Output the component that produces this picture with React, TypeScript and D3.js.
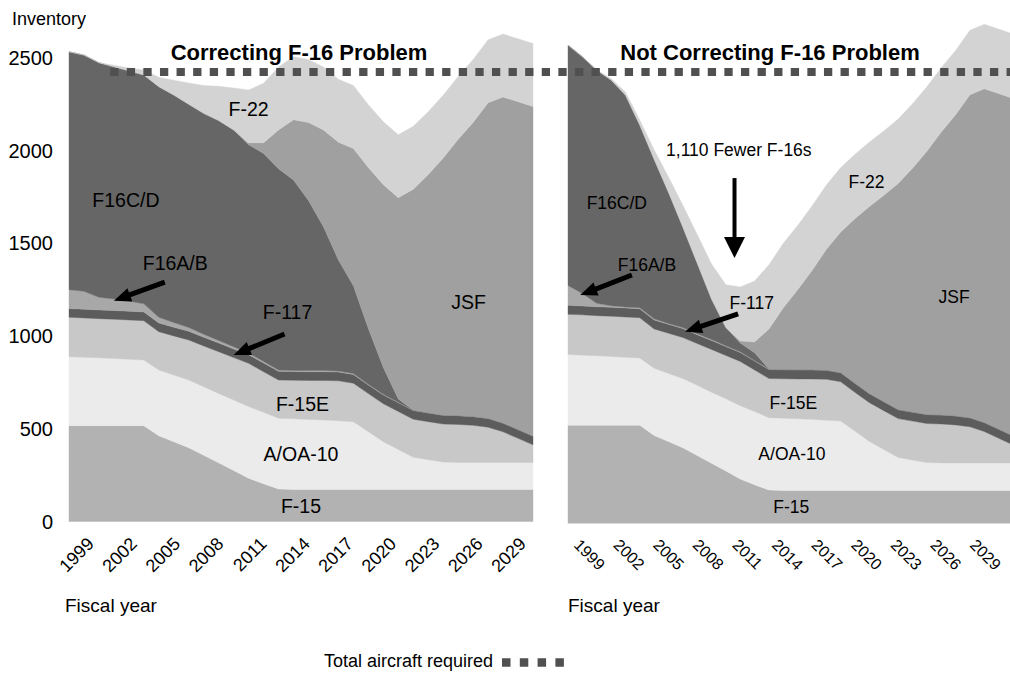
import * as d3 from "d3";

// fiscal years on the x axis
const years = [
  1999, 2000, 2001, 2002, 2003, 2004, 2005, 2006, 2007, 2008, 2009, 2010, 2011, 2012, 2013, 2014,
  2015, 2016, 2017, 2018, 2019, 2020, 2021, 2022, 2023, 2024, 2025, 2026, 2027, 2028, 2029, 2030,
];
const tickYears = [1999, 2002, 2005, 2008, 2011, 2014, 2017, 2020, 2023, 2026, 2029];
const yTicks = [0, 500, 1000, 1500, 2000, 2500];

// inventory by type (same in both panels)
const f15 = [516, 516, 516, 516, 516, 516, 462, 430, 398, 357, 316, 275, 233, 203, 175, 173, 173, 173, 173, 173, 173, 173, 173, 173, 173, 173, 173, 173, 173, 173, 173, 173];
const aoa10 = [372, 369, 366, 362, 358, 354, 354, 359, 364, 369, 374, 380, 386, 385, 381, 380, 377, 374, 370, 365, 311, 257, 215, 173, 160, 147, 145, 145, 145, 145, 145, 145];
const f15e = [212, 212, 211, 212, 212, 212, 207, 211, 216, 220, 225, 228, 233, 219, 206, 208, 210, 213, 215, 207, 205, 205, 205, 205, 205, 205, 205, 200, 190, 165, 130, 95];
const f117 = [47, 47, 47, 47, 47, 47, 47, 47, 47, 47, 47, 47, 47, 47, 47, 47, 47, 47, 47, 47, 47, 47, 47, 47, 47, 47, 47, 47, 47, 47, 47, 47];
const jsf = [0, 0, 0, 0, 0, 0, 0, 0, 0, 0, 0, 0, 10, 58, 210, 325, 420, 522, 635, 740, 867, 985, 1085, 1190, 1283, 1385, 1488, 1584, 1700, 1756, 1766, 1775];
const f22 = [0, 0, 0, 8, 16, 27, 50, 80, 115, 150, 185, 226, 285, 320, 339, 339, 339, 339, 339, 339, 339, 339, 339, 339, 339, 339, 339, 339, 339, 339, 339, 339];

// F-16 fleet: correcting the problem (left) vs not (right)
const f16abFix = [102, 96, 68, 62, 55, 44, 30, 25, 20, 16, 13, 11, 9, 8, 7, 6, 6, 6, 6, 5, 4, 3, 2, 2, 1, 1, 1, 1, 1, 1, 1, 1];
const f16cdFix = [1282, 1273, 1264, 1251, 1240, 1233, 1243, 1226, 1203, 1190, 1185, 1169, 1122, 1121, 1084, 1026, 917, 775, 598, 473, 300, 145, 18, 0, 0, 0, 0, 0, 0, 0, 0, 0];
const f16abNoFix = [105, 65, 18, 8, 6, 6, 6, 5, 5, 5, 5, 4, 4, 3, 3, 2, 2, 2, 2, 1, 1, 1, 1, 1, 1, 1, 1, 1, 1, 1, 1, 1];
const f16cdNoFix = [1265, 1247, 1227, 1188, 1115, 961, 840, 691, 529, 372, 213, 96, 46, 40, 0, 0, 0, 0, 0, 0, 0, 0, 0, 0, 0, 0, 0, 0, 0, 0, 0, 0];

const totalRequired = 2422;

const keys = ["F-15", "A/OA-10", "F-15E", "F-117", "F16A/B", "F16C/D", "JSF", "F-22"];
const colors = ["#b2b2b2", "#ebebeb", "#c8c8c8", "#5c5c5c", "#a8a8a8", "#666666", "#a0a0a0", "#d3d3d3"];

const FONT = "'Liberation Sans', Arial, Helvetica, sans-serif";

type Row = { year: number; [k: string]: number };

function buildRows(f16ab: number[], f16cd: number[]): Row[] {
  return years.map((year, i) => ({
    year,
    "F-15": f15[i],
    "A/OA-10": aoa10[i],
    "F-15E": f15e[i],
    "F-117": f117[i],
    "F16A/B": f16ab[i],
    "F16C/D": f16cd[i],
    JSF: jsf[i],
    "F-22": f22[i],
  }));
}

// labels in data coordinates [year, value]
const leftLabels = [
  { t: "F-22", at: [2011.0, 2185] },
  { t: "F16C/D", at: [2002.8, 1694] },
  { t: "F16A/B", at: [2006.1, 1355] },
  { t: "F-117", at: [2013.6, 1089] },
  { t: "JSF", at: [2025.7, 1143] },
  { t: "F-15E", at: [2014.6, 597] },
  { t: "A/OA-10", at: [2014.5, 326] },
  { t: "F-15", at: [2014.5, 44] },
];
const leftArrows = [
  { from: [2005.4, 1290], to: [2002.0, 1190] },
  { from: [2013.4, 1010], to: [2010.0, 897] },
];
const rightLabels = [
  { t: "F16C/D", at: [2002.4, 1653] },
  { t: "F16A/B", at: [2004.5, 1329] },
  { t: "1,110 Fewer F-16s", at: [2010.9, 1933] },
  { t: "F-22", at: [2019.8, 1766] },
  { t: "F-117", at: [2011.8, 1126] },
  { t: "JSF", at: [2025.9, 1161] },
  { t: "F-15E", at: [2014.7, 600] },
  { t: "A/OA-10", at: [2014.6, 332] },
  { t: "F-15", at: [2014.55, 53] },
];
const rightArrows = [
  { from: [2003.45, 1307], to: [1999.85, 1201] },
  { from: [2010.85, 1102], to: [2007.15, 1008] },
  { from: [2010.6, 1817], to: [2010.6, 1396], head: 21, half: 10.5, width: 4 },
];

function Arrow({ x1, y1, x2, y2, head = 17, half = 7, width = 5 }: any) {
  const dx = x2 - x1;
  const dy = y2 - y1;
  const len = Math.hypot(dx, dy);
  const ux = dx / len;
  const uy = dy / len;
  const bx = x2 - ux * head;
  const by = y2 - uy * head;
  const px = -uy;
  const py = ux;
  return (
    <g>
      <line x1={x1} y1={y1} x2={bx + ux} y2={by + uy} stroke="#000" strokeWidth={width} />
      <polygon
        points={`${x2},${y2} ${bx + px * half},${by + py * half} ${bx - px * half},${by - py * half}`}
        fill="#000"
      />
    </g>
  );
}

function Panel({ rows, xRange, yRange, labels, arrows, labelSize, ticks }: any) {
  const x = d3.scaleLinear().domain([years[0], years[years.length - 1]]).range(xRange);
  const y = d3.scaleLinear().domain([0, 2500]).range(yRange);
  const series = d3.stack<Row>().keys(keys)(rows);
  const area = d3
    .area<any>()
    .x((d) => x(d.data.year))
    .y0((d) => y(d[0]))
    .y1((d) => y(d[1]));

  return (
    <g>
      {series.map((s, i) => (
        <path key={s.key} d={area(s) || ""} fill={colors[i]} stroke={colors[i]} strokeWidth={0.4} />
      ))}
      {labels.map((l: any) => (
        <text key={l.t} x={x(l.at[0])} y={y(l.at[1])} textAnchor="middle" fontSize={labelSize}>
          {l.t}
        </text>
      ))}
      {arrows.map((a: any, i: number) => (
        <Arrow
          key={i}
          x1={x(a.from[0])}
          y1={y(a.from[1])}
          x2={x(a.to[0])}
          y2={y(a.to[1])}
          head={a.head}
          half={a.half}
          width={a.width}
        />
      ))}
      {tickYears.map((yr) => {
        const tx = ticks.scale(yr);
        return (
          <text
            key={yr}
            x={tx}
            y={ticks.y}
            fontSize={ticks.size}
            textAnchor={ticks.anchor}
            transform={`rotate(${ticks.rotate},${tx},${ticks.y})`}
          >
            {yr}
          </text>
        );
      })}
    </g>
  );
}

export default function App() {
  const width = 1010;
  const height = 675;
  const xLeft = d3.scaleLinear().domain([1999, 2030]).range([69, 533]);
  const yLeft = d3.scaleLinear().domain([0, 2500]).range([521.5, 57.5]);

  const leftTicks = {
    scale: d3.scalePoint<number>().domain(tickYears).range([95, 527]),
    y: 545,
    size: 18,
    anchor: "end",
    rotate: -45,
  };
  const rightTicks = {
    scale: d3.scalePoint<number>().domain(tickYears).range([573, 969]),
    y: 546,
    size: 16,
    anchor: "start",
    rotate: 45,
  };

  const reqY = yLeft(totalRequired);

  return (
    <svg
      width={width}
      height={height}
      style={{ position: "absolute", left: 0, top: 0, background: "#fff" }}
      fontFamily={FONT}
      fill="#000"
    >
      <Panel
        rows={buildRows(f16abFix, f16cdFix)}
        xRange={[69, 533]}
        yRange={[521.5, 57.5]}
        labels={leftLabels}
        arrows={leftArrows}
        labelSize={19.5}
        ticks={leftTicks}
      />
      <Panel
        rows={buildRows(f16abNoFix, f16cdNoFix)}
        xRange={[568, 1013]}
        yRange={[523.3, 48.3]}
        labels={rightLabels}
        arrows={rightArrows}
        labelSize={17.5}
        ticks={rightTicks}
      />

      {/* total aircraft required */}
      <line
        x1={xLeft(2001.75)}
        x2={width}
        y1={reqY}
        y2={reqY}
        stroke="#505050"
        strokeWidth={8}
        strokeDasharray="8.3 8.3"
      />

      {/* y axis */}
      {yTicks.map((v) => (
        <text key={v} x={53} y={yLeft(v)} dy="0.36em" textAnchor="end" fontSize={20}>
          {v}
        </text>
      ))}
      <text x={12} y={25} fontSize={18}>
        Inventory
      </text>

      <text x={299} y={60} textAnchor="middle" fontSize={22} fontWeight="bold">
        Correcting F-16 Problem
      </text>
      <text x={770} y={60} textAnchor="middle" fontSize={22} fontWeight="bold">
        Not Correcting F-16 Problem
      </text>

      <text x={65} y={612} fontSize={19}>
        Fiscal year
      </text>
      <text x={568} y={612} fontSize={19}>
        Fiscal year
      </text>

      {/* legend */}
      <text x={493} y={667} textAnchor="end" fontSize={18}>
        Total aircraft required
      </text>
      <line x1={502} x2={565} y1={662.5} y2={662.5} stroke="#505050" strokeWidth={8.5} strokeDasharray="8.5 9.3" />
    </svg>
  );
}
